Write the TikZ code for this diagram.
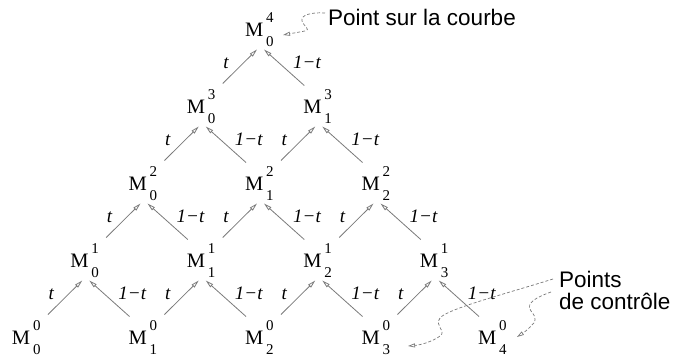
\documentclass[tikz,border=0pt]{standalone}
\usepackage{fontspec}
\setmainfont{Liberation Serif}
\newfontfamily\labsans{Liberation Sans}
\usetikzlibrary{arrows.meta}
\definecolor{edgegray}{HTML}{7A7A7A}
\newcommand\Mpt[2]{\fontsize{20.5}{20.5}\selectfont M\kern3pt\rlap{\raisebox{14pt}{\fontsize{15}{15}\selectfont #2}}\raisebox{-10pt}{\fontsize{15}{15}\selectfont #1}}
\tikzset{
  mnode/.style={anchor=base west, inner sep=0pt, outer sep=0pt},
  edge/.style={draw=edgegray, line width=0.8pt, -{Triangle[open, length=8pt, width=4pt]}},
  lab/.style={anchor=base, inner sep=0pt, font=\fontsize{19}{19}\selectfont\itshape},
  note/.style={anchor=base west, inner sep=0pt, font=\labsans\fontsize{22.5}{22}\selectfont},
  dasharr/.style={draw=edgegray, line width=0.7pt, dash pattern=on 3pt off 2pt, -{Triangle[open, length=7pt, width=4pt]}}
}
\begin{document}
\begin{tikzpicture}[x=1pt, y=-1pt]
\useasboundingbox (0,0) rectangle (675,359);
\foreach \L in {0,...,4}{
  \pgfmathtruncatemacro\kmax{4-\L}
  \foreach \k in {0,...,\kmax}{
    \node[mnode] (m\L\k) at ({12+58.25*\L+116.5*\k},{344-77*\L}) {\Mpt{\k}{\L}};
  }
}
\foreach \L in {1,...,4}{
  \pgfmathtruncatemacro\Lm{\L-1}
  \pgfmathtruncatemacro\kmax{4-\L}
  \foreach \k in {0,...,\kmax}{
    \pgfmathtruncatemacro\kk{\k+1}
    \draw[edge] ([shift={(36,-29.5)}]m\Lm\k.base west) -- ([shift={(12,13.5)}]m\L\k.base west);
    \draw[edge] ([shift={(1,-27.5)}]m\Lm\kk.base west) -- ([shift={(19,13.5)}]m\L\k.base west);
    \node[lab] (tl\L\k) at ([shift={(-19,32)}]m\L\k.base west) {t};
    \node[lab] (ol\L\k) at ([shift={(62,32)}]m\L\k.base west) {1−t};
  }
}
\node[note] (curve) at (328,25) {Point sur la courbe};
\node[note, align=left, anchor=north west] (ctrl) at (559,271) {Points\\de contrôle};
\draw[dasharr] ([shift={(-3,-12)}]curve.base west) .. controls (312,12) and (300,15) .. (302,21) .. controls (304,27) and (311,29) .. (305,31) -- ([shift={(38,-1)}]m40.base west);
\draw[dasharr] ([shift={(-6,8)}]ctrl.north west) .. controls (505,294) and (447,309) .. (440,318) .. controls (434,326) and (447,331) .. (440,336) .. controls (432,342) and (420,345) .. ([shift={(46.5,2)}]m03.base west);
\draw[dasharr] ([shift={(-8,21)}]ctrl.north west) .. controls (537,297) and (525,303) .. (531,311) .. controls (537,318) and (536,322) .. (531,326) .. controls (526,331) .. ([shift={(39,-7)}]m04.base west);
\end{tikzpicture}
\end{document}
